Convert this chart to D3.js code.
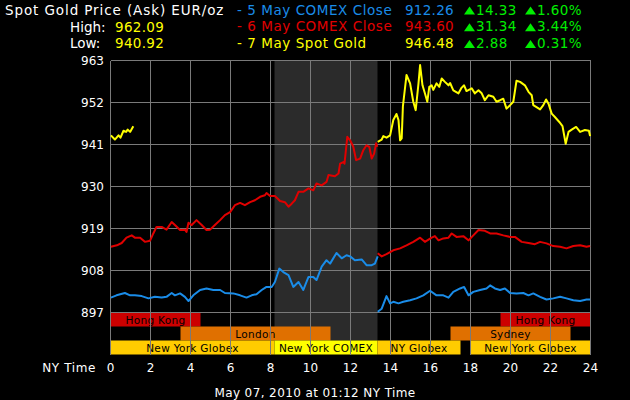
<!DOCTYPE html>
<html>
<head>
<meta charset="utf-8">
<script src="https://cdn.jsdelivr.net/npm/d3@7"></script>
<style>
  body { margin: 0; background: #000; }
  svg { display: block; }
  text { font-family: "DejaVu Sans", sans-serif; }
</style>
</head>
<body>
<svg id="chart" width="630" height="400"></svg>
<script>
// y axis ticks (EUR/oz) and x axis ticks (NY hours)
var yTicks = [897, 908, 919, 930, 941, 952, 963];
var xTicks = [0, 2, 4, 6, 8, 10, 12, 14, 16, 18, 20, 22, 24];

// 5 May COMEX close line (blue), two pieces split at the COMEX close
var may5Before = [[0.02,900.9],[0.3,901.5],[0.72,902.1],[0.98,901.5],[1.22,901.5],[1.56,901.3],[1.9,900.7],[2.22,901.1],[2.56,900.9],[2.8,901.1],[3.06,902.1],[3.22,901.5],[3.48,902.0],[3.72,901.1],[3.9,900.0],[4.14,901.5],[4.48,902.9],[4.8,903.3],[5.14,902.9],[5.48,902.9],[5.72,902.1],[6.14,902.0],[6.48,901.5],[6.8,900.9],[7.06,901.5],[7.3,901.8],[7.56,902.9],[7.8,903.7],[8.06,903.7],[8.22,905.0],[8.44,908.5],[8.64,907.6],[8.9,906.8],[9.14,903.7],[9.4,905.0],[9.64,902.9],[9.9,906.3],[10.14,906.3],[10.3,905.5],[10.56,909.0],[10.8,910.7],[10.98,909.8],[11.3,912.6],[11.56,911.2],[11.8,912.0],[11.98,911.7],[12.22,910.7],[12.56,910.9],[12.8,909.4],[13.06,909.4],[13.22,909.8],[13.36,911.7]];
var may5After = [[13.36,897.2],[13.56,898.0],[13.8,901.3],[13.98,899.4],[14.14,899.8],[14.4,899.4],[14.64,899.8],[14.98,900.2],[15.3,900.7],[15.64,901.5],[15.98,902.7],[16.3,901.5],[16.64,901.5],[16.9,900.9],[17.14,902.4],[17.48,903.3],[17.68,903.7],[17.9,901.5],[18.14,902.4],[18.48,902.9],[18.8,903.3],[18.98,904.1],[19.22,903.3],[19.48,902.9],[19.72,903.3],[19.98,902.1],[20.3,902.0],[20.64,902.1],[20.9,901.5],[21.14,902.0],[21.48,901.1],[21.8,900.4],[22.14,900.7],[22.48,901.1],[22.8,900.7],[23.14,900.2],[23.48,900.0],[23.8,900.4],[23.98,900.4]];

// 6 May COMEX close line (red)
var may6Before = [[0.02,914.2],[0.32,914.6],[0.56,915.2],[0.8,916.6],[1.06,917.2],[1.22,916.6],[1.48,916.6],[1.72,915.5],[1.98,915.8],[2.14,917.7],[2.3,919.4],[2.56,919.4],[2.8,918.7],[3.06,920.7],[3.22,919.9],[3.48,918.6],[3.72,918.7],[3.8,918.1],[3.9,920.5],[4.06,919.9],[4.3,921.2],[4.56,919.9],[4.8,918.6],[4.98,918.7],[5.22,919.9],[5.48,921.2],[5.72,922.5],[5.98,923.3],[6.22,925.1],[6.48,925.7],[6.72,925.1],[6.98,925.9],[7.22,926.4],[7.48,927.3],[7.72,927.7],[7.8,928.3],[7.98,927.5],[8.22,927.5],[8.48,926.2],[8.72,925.9],[8.9,924.7],[9.06,925.5],[9.22,926.4],[9.4,928.6],[9.64,928.6],[9.9,929.5],[10.14,929.0],[10.3,930.8],[10.56,930.3],[10.8,931.2],[10.9,933.0],[11.22,932.7],[11.4,933.4],[11.48,936.0],[11.64,936.4],[11.7,936.0],[11.84,943.0],[11.98,942.1],[12.14,940.4],[12.28,936.9],[12.48,937.3],[12.64,939.5],[12.8,940.8],[12.94,940.4],[13.06,937.3],[13.18,938.6],[13.28,941.3],[13.34,940.4]];
var may6After = [[13.36,912.5],[13.56,911.7],[13.8,912.3],[14.14,913.3],[14.48,913.8],[14.8,914.6],[15.14,915.5],[15.48,916.6],[15.72,915.5],[16.06,916.6],[16.22,917.0],[16.4,915.9],[16.64,916.4],[16.9,916.6],[17.06,917.7],[17.3,916.8],[17.64,917.0],[17.9,915.9],[18.14,917.2],[18.4,918.6],[18.72,918.4],[18.98,917.7],[19.3,917.7],[19.64,917.2],[19.98,916.8],[20.22,916.8],[20.56,915.5],[20.9,915.2],[21.22,914.9],[21.48,915.5],[21.8,915.1],[22.14,914.4],[22.48,914.2],[22.8,913.8],[23.14,914.4],[23.48,914.6],[23.8,914.2],[23.98,914.4]];

// 7 May spot gold line (yellow)
var may7Early = [[0.02,943.4],[0.22,942.3],[0.4,943.4],[0.5,942.8],[0.65,944.6],[0.78,944.3],[0.86,944.9],[0.98,944.3],[1.14,945.8]];
var may7Late = [[13.36,941.7],[13.56,942.3],[13.64,943.2],[13.8,942.8],[13.98,943.4],[14.14,947.4],[14.3,949.0],[14.4,947.4],[14.48,942.1],[14.56,942.6],[14.62,951.0],[14.8,959.2],[14.98,957.0],[15.14,952.2],[15.26,950.0],[15.4,957.0],[15.48,961.8],[15.6,956.5],[15.72,954.4],[15.84,952.2],[15.94,956.1],[16.06,956.5],[16.14,955.3],[16.3,957.0],[16.44,956.1],[16.56,958.3],[16.72,957.4],[16.9,956.5],[16.98,957.1],[17.14,955.2],[17.4,954.4],[17.56,955.9],[17.68,956.5],[17.8,955.0],[18.06,955.7],[18.22,954.4],[18.4,955.2],[18.56,954.4],[18.72,952.6],[18.9,953.9],[19.14,953.5],[19.3,952.2],[19.48,952.6],[19.64,953.0],[19.8,950.4],[19.98,951.3],[20.14,952.2],[20.3,957.7],[20.48,957.4],[20.72,956.5],[20.9,954.8],[21.06,953.9],[21.14,951.3],[21.3,950.8],[21.48,950.2],[21.64,951.3],[21.78,952.8],[21.9,951.7],[22.06,949.1],[22.22,948.2],[22.44,946.9],[22.6,945.8],[22.76,941.2],[22.9,944.3],[23.06,944.9],[23.28,945.6],[23.48,944.3],[23.72,944.8],[23.92,944.6],[23.98,943.2]];

// trading sessions: [label, start hour, end hour, row, colour]
var sessions = [
  ["Hong Kong", 0, 4.5, 0, "#cc0000"],
  ["Hong Kong", 19.5, 24, 0, "#cc0000"],
  ["London", 3.5, 11, 1, "#e07000"],
  ["Sydney", 17, 23, 1, "#e07000"],
  ["New York Globex", 0, 8.2, 2, "#ffcc00"],
  ["New York COMEX", 8.2, 13.35, 2, "#ffff00"],
  ["NY Globex", 13.35, 17.5, 2, "#ffcc00"],
  ["New York Globex", 18, 24, 2, "#ffcc00"]
];
var comexSpan = [8.2, 13.35];

// header rows
var legendNames = ["- 5 May COMEX Close", "- 6 May COMEX Close", "- 7 May Spot Gold"];
var legendPrices = ["912.26", "943.60", "946.48"];
var legendChanges = ["14.33", "31.34", "2.88"];
var legendPercents = ["1.60%", "3.44%", "0.31%"];
var legendColors = ["#1a8ce8", "#e00000", "#ffff00"];

var svg = d3.select("#chart");
svg.append("rect").attr("width", 630).attr("height", 400).attr("fill", "#000");

var x = d3.scaleLinear().domain([0, 24]).range([110.5, 590.5]);
var y = d3.scaleLinear().domain([897, 963]).range([312.5, 60.5]);
var row = d3.scaleBand().domain([0, 1, 2]).range([312.5, 354.5]);
var plotBottom = 354.5;

// grey shade over the COMEX session
svg.append("rect")
  .attr("x", x(comexSpan[0])).attr("y", y(963))
  .attr("width", x(comexSpan[1]) - x(comexSpan[0]))
  .attr("height", row(2) - y(963))
  .attr("fill", "#2b2b2b");

// session bars
var bars = svg.append("g");
bars.selectAll("rect").data(sessions).enter().append("rect")
  .attr("x", function(d) { return x(d[1]); })
  .attr("y", function(d) { return row(d[3]); })
  .attr("width", function(d) { return x(d[2]) - x(d[1]); })
  .attr("height", row.bandwidth())
  .attr("fill", function(d) { return d[4]; });
bars.selectAll("text").data(sessions).enter().append("text")
  .attr("x", function(d) { return (x(d[1]) + x(d[2])) / 2; })
  .attr("y", function(d) { return row(d[3]) + row.bandwidth() / 2 + 4; })
  .attr("text-anchor", "middle")
  .attr("font-size", "10.5px")
  .attr("letter-spacing", "0.3px")
  .attr("fill", "#000")
  .text(function(d) { return d[0]; });

// grid
var grid = svg.append("g").attr("stroke", "#7a7a7a").attr("stroke-width", 1).attr("shape-rendering", "crispEdges");
grid.selectAll("line.h").data(yTicks).enter().append("line")
  .attr("x1", x(0)).attr("x2", x(24))
  .attr("y1", function(d) { return y(d); }).attr("y2", function(d) { return y(d); });
grid.selectAll("line.v").data(xTicks).enter().append("line")
  .attr("x1", function(d) { return x(d); }).attr("x2", function(d) { return x(d); })
  .attr("y1", y(963)).attr("y2", plotBottom);

// y labels
svg.selectAll("text.ylab").data(yTicks).enter().append("text")
  .attr("x", 104).attr("y", function(d) { return y(d) + 4.5; })
  .attr("text-anchor", "end").attr("font-size", "12px").attr("fill", "#fff")
  .text(function(d) { return d; });

// x labels
svg.selectAll("text.xlab").data(xTicks).enter().append("text")
  .attr("x", function(d) { return x(d); }).attr("y", 372)
  .attr("text-anchor", "middle").attr("font-size", "12px").attr("fill", "#fff")
  .text(function(d) { return d; });
svg.append("text").attr("x", 96).attr("y", 372).attr("text-anchor", "end")
  .attr("font-size", "12px").attr("letter-spacing", "0.6px").attr("fill", "#fff").text("NY Time");

svg.append("text").attr("x", 315).attr("y", 397).attr("text-anchor", "middle")
  .attr("font-size", "12px").attr("letter-spacing", "0.4px").attr("fill", "#fff")
  .text("May 07, 2010 at 01:12 NY Time");

// price lines
var line = d3.line()
  .x(function(d) { return x(d[0]); })
  .y(function(d) { return y(d[1]); });
var series = [
  [may5Before, legendColors[0]], [may5After, legendColors[0]],
  [may6Before, legendColors[1]], [may6After, legendColors[1]],
  [may7Early, legendColors[2]], [may7Late, legendColors[2]]
];
svg.append("g").selectAll("path").data(series).enter().append("path")
  .attr("d", function(d) { return line(d[0]); })
  .attr("fill", "none")
  .attr("stroke", function(d) { return d[1]; })
  .attr("stroke-width", 2)
  .attr("stroke-linejoin", "round");

// header
var head = svg.append("g").attr("font-size", "13.5px");
head.append("text").attr("x", 5).attr("y", 14.5).attr("fill", "#fff")
  .attr("letter-spacing", "0.9px").text("Spot Gold Price (Ask) EUR/oz");
head.append("text").attr("x", 70).attr("y", 31.5).attr("fill", "#fff").text("High:");
head.append("text").attr("x", 115).attr("y", 31.5).attr("fill", "#ffff00").attr("letter-spacing", "0.3px").text("962.09");
head.append("text").attr("x", 70).attr("y", 48).attr("fill", "#fff").text("Low:");
head.append("text").attr("x", 115).attr("y", 48).attr("fill", "#ffff00").attr("letter-spacing", "0.3px").text("940.92");

var rows = head.selectAll("g.row").data(legendNames).enter().append("g")
  .attr("transform", function(d, i) { return "translate(0," + (14.5 + i * 16.75) + ")"; });
rows.append("text").attr("x", 237).attr("letter-spacing", "0.55px")
  .attr("fill", function(d, i) { return legendColors[i]; })
  .text(function(d) { return d; });
rows.append("text").attr("x", 454).attr("text-anchor", "end").attr("letter-spacing", "0.3px")
  .attr("fill", function(d, i) { return legendColors[i]; })
  .text(function(d, i) { return legendPrices[i]; });
[464, 525].forEach(function(tx, k) {
  rows.append("path").attr("d", "M" + tx + ",0 L" + (tx + 11) + ",0 L" + (tx + 5.5) + ",-8 Z").attr("fill", "#00ee00");
  rows.append("text").attr("x", tx + 12).attr("letter-spacing", "0.4px").attr("fill", "#00ee00")
    .text(function(d, i) { return k === 0 ? legendChanges[i] : legendPercents[i]; });
});
</script>
</body>
</html>
